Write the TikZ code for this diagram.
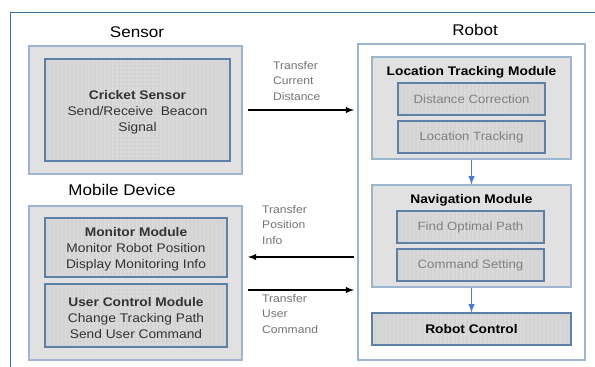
\documentclass[tikz,border=0pt]{standalone}
\usepackage{fontspec}
\setmainfont{Liberation Sans}[FakeStretch=1.1]
\usetikzlibrary{arrows,patterns.meta}

\definecolor{frameblue}{HTML}{3C6E9E}
\definecolor{lightedge}{HTML}{9DB5D0}
\definecolor{darkedge}{HTML}{5F80A6}
\definecolor{boxgray}{HTML}{E1E1E1}
\definecolor{cellgray}{HTML}{D4D4D4}
\definecolor{flowblue}{HTML}{4A7CCB}

\tikzset{
  outerbox/.style={draw=lightedge,line width=1.2pt,fill=boxgray,inner sep=0pt},
  modbox/.style={draw=lightedge,line width=1.2pt,fill=boxgray,inner sep=0pt},
  cellbox/.style={draw=darkedge,line width=1.2pt,inner sep=0pt,
    preaction={fill=cellgray},pattern={Lines[angle=90,distance=4pt,line width=0.5pt]},pattern color=gray!28},
  title/.style={font=\fontsize{15.5}{18}\selectfont},
  cellfont/.style={font=\fontsize{12.5}{16}\selectfont,text=black!80,align=center},
  greyfont/.style={font=\fontsize{12}{15}\selectfont,text=black!50},
  note/.style={font=\fontsize{11}{15.5}\selectfont,text=black!55,align=left,anchor=north west,inner sep=0pt}
}

\begin{document}
\begin{tikzpicture}[x=1pt,y=-1pt,>=latex]

\useasboundingbox (0,0) rectangle (595,367);

% frame
\draw[color=frameblue,line width=1.0pt] (10,367) -- (10,12) -- (595,12);

% sensor
\node[title] (tsens) at (137,32) {Sensor};
\node[outerbox,minimum width=213pt,minimum height=128pt] (sens) at (135.5,110) {};
\node[cellbox,minimum width=185pt,minimum height=102pt] (crick) at (137.5,110) {};
\node[cellfont] (tcrick) at (137.5,112) {\textbf{Cricket Sensor}\\Send/Receive~~Beacon\\Signal};

% mobile device
\node[title] (tmob) at (122,190) {Mobile Device};
\node[outerbox,minimum width=213pt,minimum height=154pt] (mob) at (135.5,283) {};
\node[cellbox,minimum width=182pt,minimum height=59pt] (mon) at (136,247.5) {};
\node[cellfont] (tmon) at (136,249.5) {\textbf{Monitor Module}\\Monitor Robot Position\\Display Monitoring Info};
\node[cellbox,minimum width=182pt,minimum height=63pt] (ucm) at (136,315.5) {};
\node[cellfont] (tucm) at (136,318) {\textbf{User Control Module}\\Change Tracking Path\\Send User Command};

% robot
\node[title] (trob) at (475,30) {Robot};
\node[draw=lightedge,line width=1.2pt,fill=white,minimum width=227pt,minimum height=316pt] (rob) at (471.5,202) {};

\node[modbox,minimum width=199pt,minimum height=102pt] (ltm) at (471.5,108) {};
\node[font=\fontsize{12.5}{15}\selectfont\bfseries] (tltm) at (471.5,72) {Location Tracking Module};
\node[cellbox,minimum width=147pt,minimum height=32pt] (dc) at (471.5,99) {};
\node[greyfont] at (dc) {Distance Correction};
\node[cellbox,minimum width=147pt,minimum height=32pt] (lt) at (471.5,137) {};
\node[greyfont] at (lt) {Location Tracking};

\node[modbox,minimum width=199pt,minimum height=102pt] (nav) at (471.5,236) {};
\node[font=\fontsize{12.5}{15}\selectfont\bfseries] (tnav) at (471.5,200) {Navigation Module};
\node[cellbox,minimum width=147pt,minimum height=32pt] (fop) at (470.5,227) {};
\node[greyfont] at (fop) {Find Optimal Path};
\node[cellbox,minimum width=147pt,minimum height=32pt] (cs) at (470.5,265) {};
\node[greyfont] at (cs) {Command Setting};

\node[cellbox,minimum width=199pt,minimum height=32pt] (rc) at (471.5,329) {};
\node[font=\fontsize{12.5}{15}\selectfont\bfseries] at (rc) {Robot Control};

\draw[->,color=flowblue,line width=1.8pt] (ltm.south) -- (nav.north);
\draw[->,color=flowblue,line width=1.8pt] (nav.south) -- (rc.north);

% transfers
\coordinate (a1) at (248,110);
\coordinate (b1) at (354,110);
\coordinate (a2) at (354,257);
\coordinate (b2) at (248,257);
\coordinate (a3) at (248,290);
\coordinate (b3) at (354,290);

\draw[->,line width=1.8pt] (a1) -- (b1);
\draw[->,line width=1.8pt] (a2) -- (b2);
\draw[->,line width=1.8pt] (a3) -- (b3);

\node[note] (n1) at (273,61) {Transfer\\Current\\Distance};
\node[note] (n2) at (262,205) {Transfer\\Position\\Info};
\node[note] (n3) at (262,294) {Transfer\\User\\Command};

\end{tikzpicture}
\end{document}
